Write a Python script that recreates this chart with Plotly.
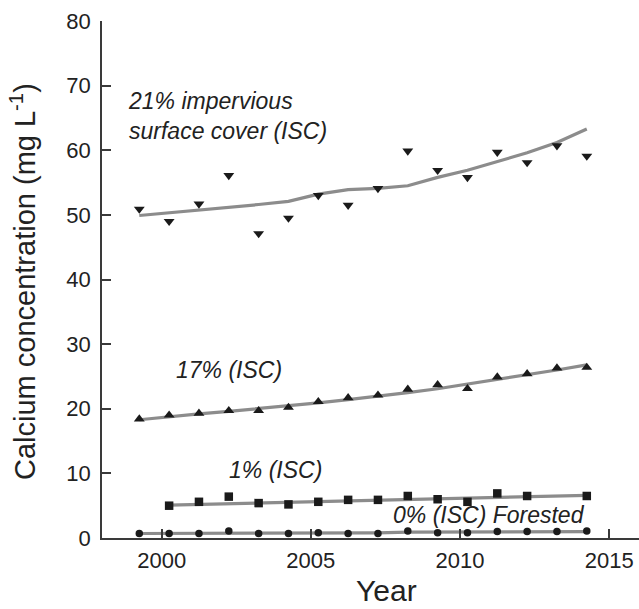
import plotly.graph_objects as go

# Sampling years (mid-year sampling dates)
years = [1999.25 + i for i in range(16)]
years_1pct = [2000.25 + i for i in range(13)] + [2014.25]

# Calcium concentration (mg/L) by site impervious surface cover
isc21_obs = [50.9, 49.0, 51.7, 56.1, 47.1, 49.5, 53.0, 51.5, 54.1, 59.9,
             56.9, 55.8, 59.7, 58.1, 60.7, 59.1]
isc21_fit = [49.9, 50.3, 50.8, 51.2, 51.6, 52.1, 53.2, 53.9, 54.1, 54.5,
             55.8, 56.9, 58.3, 59.6, 61.2, 63.3]

isc17_obs = [18.4, 19.0, 19.3, 19.7, 19.7, 20.2, 21.1, 21.7, 22.1, 23.0,
             23.7, 23.1, 24.9, 25.4, 26.3, 26.4]
isc17_fit = [18.3, 18.8, 19.2, 19.6, 20.0, 20.4, 20.9, 21.4, 21.9, 22.5,
             23.1, 23.8, 24.5, 25.2, 26.0, 26.8]

isc1_obs = [5.0, 5.6, 6.4, 5.4, 5.2, 5.6, 5.9, 5.9, 6.5, 6.0, 5.6, 6.9, 6.5, 6.5]
isc1_fit = [5.1, 5.2, 5.3, 5.5, 5.6, 5.7, 5.8, 5.9, 6.0, 6.1, 6.2, 6.3, 6.4, 6.6]

isc0_obs = [0.7, 0.7, 0.7, 1.1, 0.7, 0.7, 0.8, 0.7, 0.7, 1.1,
            0.8, 0.8, 1.0, 1.0, 1.0, 1.1]
isc0_fit = [0.7, 0.7, 0.7, 0.8, 0.8, 0.8, 0.8, 0.8, 0.8, 0.9,
            0.9, 0.9, 0.9, 1.0, 1.0, 1.0]

FONT = "Liberation Sans, Arial, sans-serif"
LINE_GREY = "#8c8c8c"
INK = "#1a1a1a"
TEXT = "#222222"

series = [
    (years, isc21_obs, isc21_fit, "triangle-down", 9.5),
    (years, isc17_obs, isc17_fit, "triangle-up", 9.5),
    (years_1pct, isc1_obs, isc1_fit, "square", 8.5),
    (years, isc0_obs, isc0_fit, "circle", 7.5),
]

fig = go.Figure()
# smoothed trend lines first, observations drawn on top
for x, obs, fit, symbol, size in series:
    fig.add_trace(go.Scatter(x=x, y=fit, mode="lines",
                             line=dict(color=LINE_GREY, width=3.2),
                             hoverinfo="skip", showlegend=False))
for x, obs, fit, symbol, size in series:
    fig.add_trace(go.Scatter(x=x, y=obs, mode="markers",
                             marker=dict(symbol=symbol, size=size, color=INK,
                                         line=dict(width=0)),
                             showlegend=False))

label_font = dict(family=FONT, size=23, color=TEXT)
labels = [
    (1998.8, 65.3, "left", "<i>21% impervious<br>surface cover (ISC)</i>"),
    (2000.4, 26.0, "left", "<i>17% (ISC)</i>"),
    (2002.2, 10.5, "left", "<i>1% (ISC)</i>"),
    (2014.25, 3.5, "right", "<i>0% (ISC) Forested</i>"),
]
for lx, ly, anchor, txt in labels:
    fig.add_annotation(x=lx, y=ly, text=txt, showarrow=False, xanchor=anchor,
                       yanchor="middle", align="left", font=label_font)

# Axis titles
fig.add_annotation(xref="paper", yref="paper", x=(386 - 102) / 537, y=(538 - 609) / 517,
                   text="Year", showarrow=False, xanchor="center", yanchor="bottom",
                   font=dict(family=FONT, size=30, color=TEXT))
fig.add_annotation(xref="paper", yref="paper", x=(23 - 102) / 537, y=(538 - 282) / 517,
                   text="Calcium concentration (mg L<sup>-1</sup>)", textangle=-90,
                   showarrow=False, xanchor="center", yanchor="middle",
                   font=dict(family=FONT, size=29, color=TEXT))

axis_common = dict(showline=True, linecolor="#3a3a3a", linewidth=1.5,
                   ticks="inside", tickcolor="#3a3a3a", tickwidth=1.5, ticklen=9,
                   showgrid=False, zeroline=False,
                   tickfont=dict(family=FONT, size=22, color=TEXT))

fig.update_layout(
    width=639, height=609,
    margin=dict(l=102, r=0, t=21, b=71),
    paper_bgcolor="white", plot_bgcolor="white",
    xaxis=dict(range=[1998, 2016], tickvals=[2000, 2005, 2010, 2015],
               ticklabelstandoff=2, **axis_common),
    yaxis=dict(range=[0, 80], tickvals=list(range(0, 81, 10)),
               ticklabelstandoff=5, **axis_common),
)

fig.write_html("out.html")
